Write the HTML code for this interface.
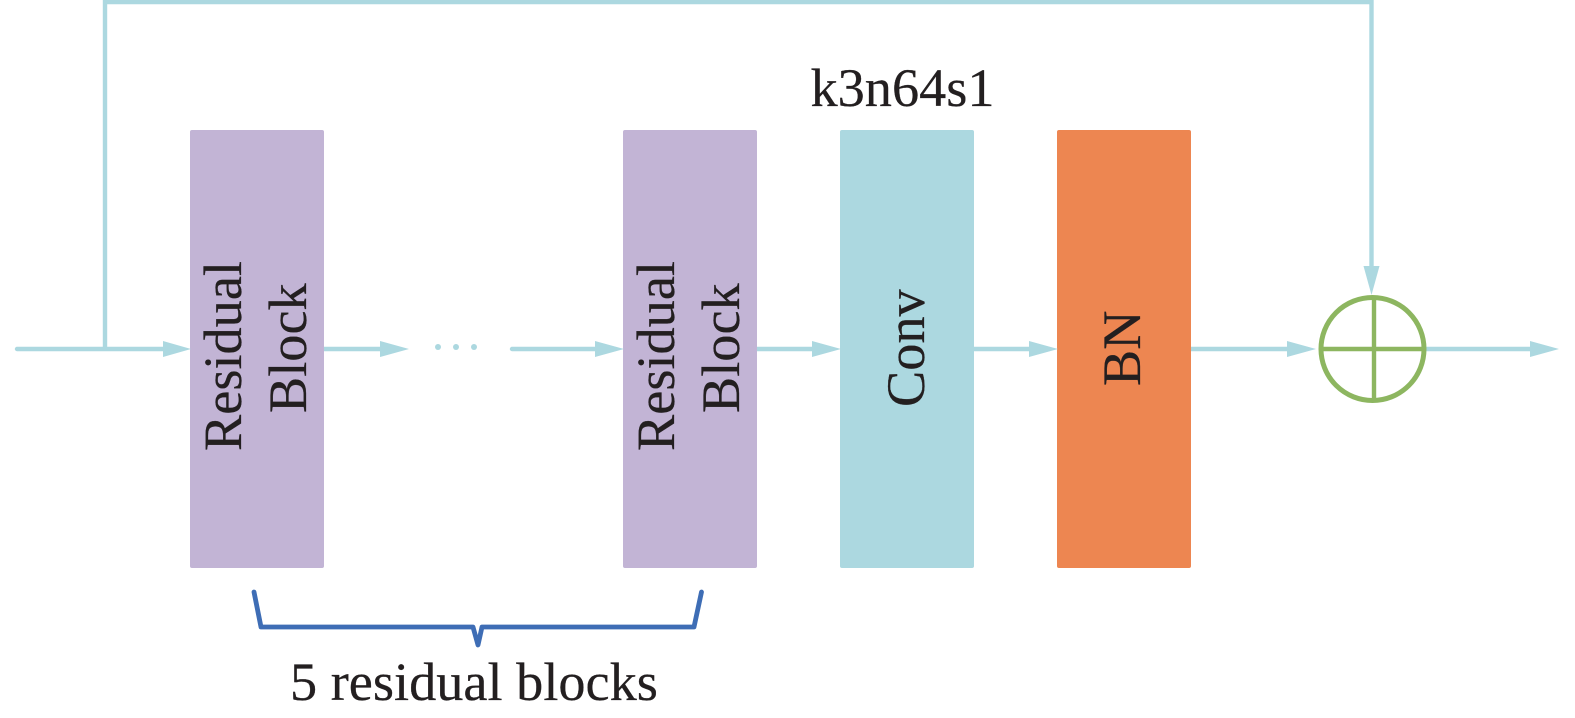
<!DOCTYPE html>
<html>
<head>
<meta charset="utf-8">
<style>
html,body{margin:0;padding:0;background:#fff;width:1575px;height:718px;overflow:hidden}
svg{display:block}
text{font-family:"Liberation Serif",serif;font-size:54.3px;fill:#231f20;stroke:#231f20;stroke-width:.25px}
</style>
</head>
<body>
<svg width="1575" height="718" viewBox="0 0 1575 718" xmlns="http://www.w3.org/2000/svg">
  <rect x="190" y="130" width="134" height="438" rx="2" fill="#c2b4d5"/>
  <rect x="623" y="130" width="134" height="438" rx="2" fill="#c2b4d5"/>
  <rect x="840" y="130" width="134" height="438" rx="2" fill="#acd8e0"/>
  <rect x="1057" y="130" width="134" height="438" rx="2" fill="#ed8651"/>

  <g fill="none" stroke="#acd8e0" stroke-width="4.4">
    <path d="M105 349V2H1371.500V270"/>
    <path d="M17 349H170" stroke-linecap="round"/>
    <path d="M324 349H385"/>
    <path d="M512 349H600" stroke-linecap="round"/>
    <path d="M757 349H815"/>
    <path d="M974 349H1032"/>
    <path d="M1191 349H1290"/>
    <path d="M1426 349H1535"/>
  </g>
  <g fill="#acd8e0">
    <polygon points="163,341 191,349 163,357"/>
    <polygon points="380,341 409,349 380,357"/>
    <polygon points="595,341 624,349 595,357"/>
    <polygon points="812,341 841,349 812,357"/>
    <polygon points="1029,341 1058,349 1029,357"/>
    <polygon points="1287,341 1316,349 1287,357"/>
    <polygon points="1530,341 1559,349 1530,357"/>
    <polygon points="1363.500,266 1379.500,266 1371.500,295"/>
    <circle cx="438" cy="347" r="3"/>
    <circle cx="456" cy="347" r="3"/>
    <circle cx="474" cy="347" r="3"/>
  </g>

  <g fill="none" stroke="#8db660">
    <circle cx="1372.500" cy="349" r="51.500" stroke-width="5"/>
    <path d="M1321 349H1425M1374 297V401" stroke-width="4.400"/>
  </g>

  <path d="M254 592L261 627H473L478 645L482 627H694L701.500 592" fill="none" stroke="#3e6db5" stroke-width="4.800" stroke-linejoin="round" stroke-linecap="round"/>

  <text transform="translate(241 451) rotate(-90)">Residual</text>
  <text transform="translate(306 413) rotate(-90)">Block</text>
  <text transform="translate(674 451) rotate(-90)">Residual</text>
  <text transform="translate(739 413) rotate(-90)">Block</text>
  <text transform="translate(924 407) rotate(-90)">Conv</text>
  <text transform="translate(1140 386) rotate(-90)">BN</text>
  <text x="810.500" y="106">k3n64s1</text>
  <text x="290" y="700">5 residual blocks</text>
</svg>
</body>
</html>
